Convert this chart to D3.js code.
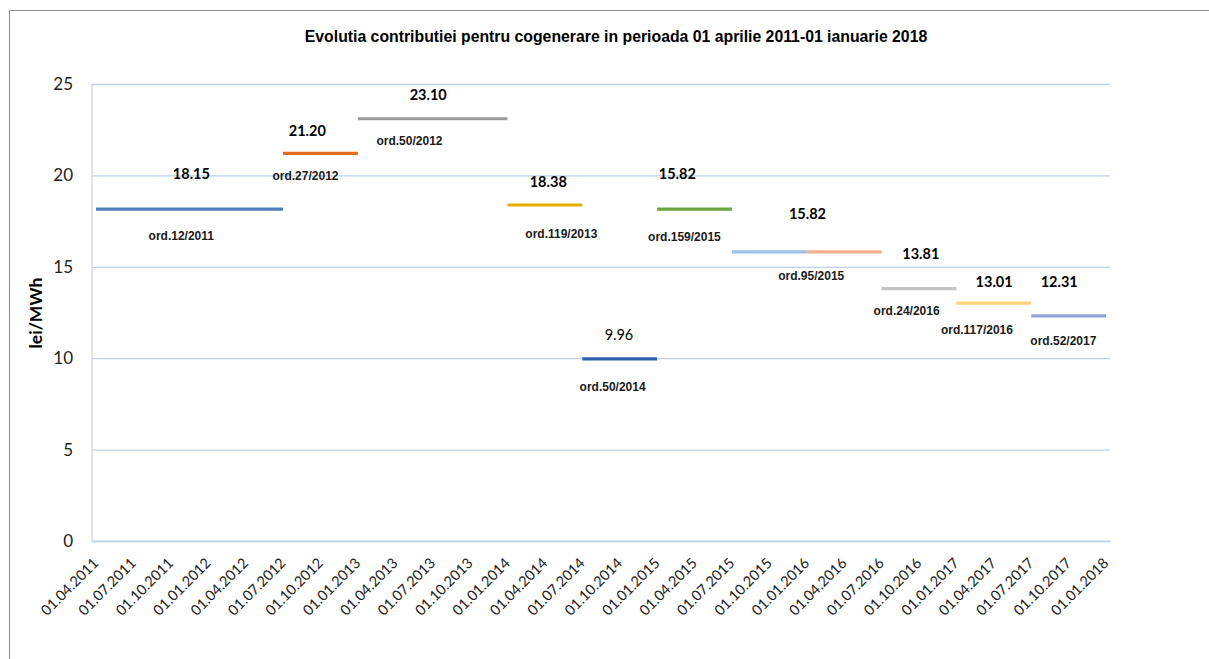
<!DOCTYPE html>
<html>
<head>
<meta charset="utf-8">
<script src="https://cdn.jsdelivr.net/npm/d3@7"></script>
<style>
  html, body { margin: 0; padding: 0; background: #fff; }
  svg { display: block; }
</style>
</head>
<body>
<svg id="chart" width="1209" height="659"></svg>
<script>
// ---------- DATA ----------
const title = "Evolutia contributiei pentru cogenerare in perioada 01 aprilie 2011-01 ianuarie 2018";
const yAxisTitle = "lei/MWh";
const categories = [
  "01.04.2011","01.07.2011","01.10.2011",
  "01.01.2012","01.04.2012","01.07.2012","01.10.2012",
  "01.01.2013","01.04.2013","01.07.2013","01.10.2013",
  "01.01.2014","01.04.2014","01.07.2014","01.10.2014",
  "01.01.2015","01.04.2015","01.07.2015","01.10.2015",
  "01.01.2016","01.04.2016","01.07.2016","01.10.2016",
  "01.01.2017","01.04.2017","01.07.2017","01.10.2017",
  "01.01.2018"
];
const yTicks = [0, 5, 10, 15, 20, 25];

// step segments (one per period)
const segStart = ["01.04.2011","01.07.2012","01.01.2013","01.01.2014","01.07.2014","01.01.2015","01.07.2015","01.01.2016","01.07.2016","01.01.2017","01.07.2017"];
const segEnd   = ["01.07.2012","01.01.2013","01.01.2014","01.07.2014","01.01.2015","01.07.2015","01.01.2016","01.07.2016","01.01.2017","01.07.2017","01.01.2018"];
const segValue = [18.15, 21.20, 23.10, 18.38, 9.96, 18.15, 15.82, 15.82, 13.81, 13.01, 12.31];
const segColor = ["#4f81bd","#e46c1f","#9a9a9a","#e6ad00","#2f5fae","#6aa33f","#9dc3e6","#f4b08e","#c4c4c4","#ffd27a","#8ea6da"];

// value labels: text, anchor in data space (category index, value)
const valueText  = ["18.15","21.20","23.10","18.38","9.96","15.82","15.82","13.81","13.01","12.31"];
const valueAtIdx = [2.55, 5.65, 8.88, 12.09, 13.98, 15.54, 19.02, 22.05, 24.01, 25.75];
const valueAtY   = [20.11, 22.45, 24.40, 19.69, 11.32, 20.08, 17.93, 15.72, 14.21, 14.21];
const valueBold  = [true, true, true, true, false, true, true, true, true, true];

// ordinance labels
const ordText  = ["ord.12/2011","ord.27/2012","ord.50/2012","ord.119/2013","ord.50/2014","ord.159/2015","ord.95/2015","ord.24/2016","ord.117/2016","ord.52/2017"];
const ordAtIdx = [2.28, 5.60, 8.38, 12.44, 13.81, 15.73, 19.12, 21.67, 23.55, 25.86];
const ordAtY   = [16.68, 19.98, 21.88, 16.79, 8.44, 16.65, 14.50, 12.58, 11.57, 10.94];

// ---------- DRAW ----------
const svg = d3.select("#chart");
const W = 1209, H = 659;
const plot = { left: 92, right: 1110, top: 84, bottom: 541 };

// outer frame (top and left edges visible)
svg.append("line").attr("x1", 9.5).attr("x2", W).attr("y1", 10.5).attr("y2", 10.5)
  .attr("stroke", "#8c8c8c").attr("stroke-width", 1);
svg.append("line").attr("x1", 9.5).attr("x2", 9.5).attr("y1", 10.5).attr("y2", H)
  .attr("stroke", "#8c8c8c").attr("stroke-width", 1);

const x = d3.scalePoint().domain(categories).range([plot.left, plot.right]).padding(0.107);
const xi = d3.scaleLinear().domain([0, categories.length - 1]).range([x(categories[0]), x(categories[categories.length - 1])]);
const y = d3.scaleLinear().domain([0, 25]).range([plot.bottom, plot.top]);

// title
svg.append("text")
  .attr("x", 616).attr("y", 36)
  .attr("text-anchor", "middle").attr("dominant-baseline", "central")
  .attr("font-family", "'Liberation Sans', Arial, sans-serif")
  .attr("font-weight", "bold").attr("font-size", 15.8)
  .attr("fill", "#000")
  .text(title);

// gridlines
const yAxis = d3.axisLeft(y).tickValues(yTicks).tickSize(-(plot.right - plot.left)).tickPadding(19).tickFormat(d3.format("d"));
const gy = svg.append("g").attr("transform", `translate(${plot.left},0)`).call(yAxis);
gy.select(".domain").remove();
gy.selectAll(".tick line").attr("stroke", "#bcd2ea").attr("stroke-width", 1.3);
gy.selectAll(".tick text")
  .attr("font-family", "Lato, 'Open Sans', sans-serif")
  .attr("font-size", 17).attr("fill", "#222");

// left axis line
svg.append("line").attr("x1", plot.left).attr("x2", plot.left)
  .attr("y1", plot.top).attr("y2", plot.bottom)
  .attr("stroke", "#c8c8c8").attr("stroke-width", 1);

// x axis
const xAxis = d3.axisBottom(x).tickSize(0).tickPadding(0);
const gx = svg.append("g").attr("transform", `translate(0,${plot.bottom})`).call(xAxis);
gx.select(".domain").attr("stroke", "#bcd2ea").attr("stroke-width", 1.3);
gx.selectAll(".tick text")
  .attr("font-family", "Lato, 'Open Sans', sans-serif")
  .attr("font-size", 14.5).attr("fill", "#222")
  .attr("text-anchor", "end")
  .attr("dy", null)
  .attr("transform", "translate(3,23) rotate(-45)");

// y axis title
svg.append("text")
  .attr("transform", "translate(35,313) rotate(-90)")
  .attr("text-anchor", "middle").attr("dominant-baseline", "central")
  .attr("font-family", "Lato, 'Open Sans', sans-serif")
  .attr("font-weight", "bold").attr("font-size", 17.5)
  .attr("fill", "#000")
  .text(yAxisTitle);

// segments
const segs = segValue.map((v, i) => ({ v, s: segStart[i], e: segEnd[i], c: segColor[i] }));
svg.append("g").selectAll("line").data(segs).join("line")
  .attr("x1", d => x(d.s)).attr("x2", d => x(d.e))
  .attr("y1", d => y(d.v)).attr("y2", d => y(d.v))
  .attr("stroke", d => d.c).attr("stroke-width", 3.2);

// value labels
const vl = valueText.map((t, i) => ({ t, xi: valueAtIdx[i], v: valueAtY[i], b: valueBold[i] }));
svg.append("g").selectAll("text").data(vl).join("text")
  .attr("x", d => xi(d.xi)).attr("y", d => y(d.v))
  .attr("text-anchor", "middle").attr("dominant-baseline", "central")
  .attr("font-family", "Lato, 'Open Sans', sans-serif")
  .attr("font-weight", d => d.b ? "bold" : "normal")
  .attr("font-size", 14.5).attr("fill", "#000")
  .text(d => d.t);

// ordinance labels
const ol = ordText.map((t, i) => ({ t, xi: ordAtIdx[i], v: ordAtY[i] }));
svg.append("g").selectAll("text").data(ol).join("text")
  .attr("x", d => xi(d.xi)).attr("y", d => y(d.v))
  .attr("text-anchor", "middle").attr("dominant-baseline", "central")
  .attr("font-family", "'Liberation Sans', Arial, sans-serif")
  .attr("font-weight", "bold")
  .attr("font-size", 12).attr("fill", "#1a1a1a")
  .text(d => d.t);
</script>
</body>
</html>
